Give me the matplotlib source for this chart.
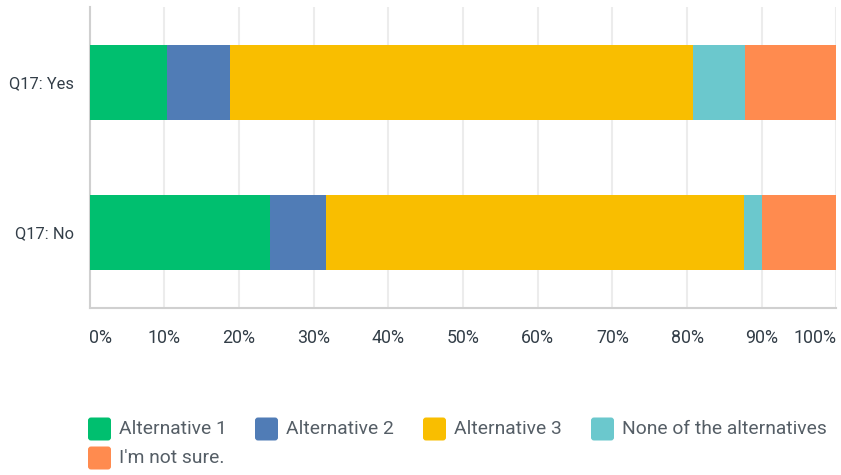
import numpy as np
import matplotlib
matplotlib.use("Agg")
import matplotlib.pyplot as plt
from matplotlib.patches import FancyBboxPatch

plt.rcParams['font.family'] = ['Roboto', 'DejaVu Sans']

# survey answers, percent of respondents per group
groups = ["Q17: Yes", "Q17: No"]
answers = ["Alternative 1", "Alternative 2", "Alternative 3",
           "None of the alternatives", "I'm not sure."]
pct_yes = [10.4, 8.4, 62.0, 6.9, 12.3]
pct_no = [24.1, 7.6, 55.9, 2.4, 10.0]
colors = ["#00BF6F", "#507CB6", "#F9BE00", "#6BC8CD", "#FF8B4F"]
ticks = [0, 10, 20, 30, 40, 50, 60, 70, 80, 90, 100]

W, H = 841, 475
fig = plt.figure(figsize=(W / 100, H / 100), dpi=100)
ax = fig.add_axes([89.5 / W, 1 - 307.7 / H, (836.5 - 89.5) / W, (307.7 - 7) / H])

vals = np.array([pct_yes, pct_no])
ypos = np.arange(len(groups))
left = np.zeros(len(groups))
for i, c in enumerate(colors):
    ax.barh(ypos, vals[:, i], left=left, height=0.5, color=c, zorder=3)
    left += vals[:, i]

ax.set_xlim(0, 100)
ax.set_ylim(1.5, -0.503)
ax.set_yticks(ypos)
ax.set_yticklabels(groups, fontsize=11.8, color="#333e48")
ax.set_xticks(ticks)
ax.set_xticklabels([f"{t}%" for t in ticks], fontsize=12.8, color="#333e48")
labs = ax.get_xticklabels()
labs[0].set_ha("left")
labs[-1].set_ha("right")
ax.tick_params(axis="both", length=0)
ax.tick_params(axis="x", pad=15)
ax.tick_params(axis="y", pad=11)
ax.grid(axis="x", color="#ececec", linewidth=1.5, zorder=0)

for s in ["top", "right"]:
    ax.spines[s].set_visible(False)
for s in ["left", "bottom"]:
    ax.spines[s].set_color("#d0d0d0")
    ax.spines[s].set_linewidth(1.5)

# legend laid out in pixel units along the bottom
lax = fig.add_axes([0, 0, 1, 1], zorder=-1)
lax.set_xlim(0, W)
lax.set_ylim(H, 0)
lax.axis("off")
slots = [(88, 429), (255, 429), (423, 429), (591, 429), (88, 458)]
for (x, y), c, name in zip(slots, colors, answers):
    lax.add_patch(FancyBboxPatch((x + 2, y - 9.5), 19, 19,
                                 boxstyle="round,pad=2,rounding_size=3",
                                 facecolor=c, edgecolor="none"))
    lax.text(x + 31, y, name, fontsize=13.9, color="#555e66",
             va="center", ha="left")

fig.savefig("out.png", dpi=100)
